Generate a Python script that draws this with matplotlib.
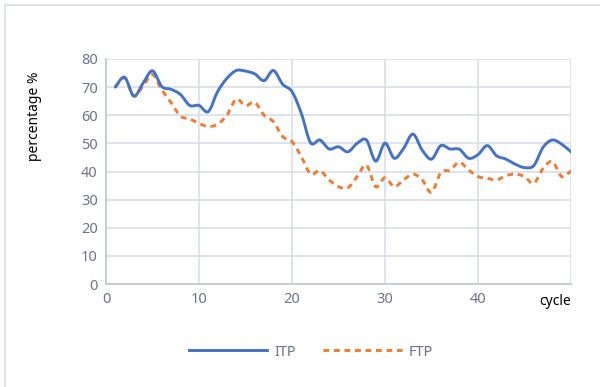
import numpy as np
import matplotlib.pyplot as plt
from matplotlib.path import Path
from matplotlib.patches import PathPatch, Rectangle
from matplotlib.lines import Line2D

# ── Data ──────────────────────────────────────────────────────────────────────

cycles = list(range(1, 51))

itp = [70, 73.5, 66.8, 71.5, 75.8, 70.2, 69.2, 67.4, 63.5, 63.5,
       61.3, 68.4, 73.1, 75.9, 75.7, 74.7, 72.3, 75.9, 71.0, 68.4,
       60.7, 50.2, 51.2, 48.0, 48.8, 47.0, 50.0, 51.2, 43.7, 50.1,
       44.7, 48.2, 53.3, 47.6, 44.4, 49.2, 48.0, 47.9, 44.7, 46.0,
       49.2, 45.6, 44.4, 42.6, 41.4, 42.1, 48.6, 51.2, 49.7, 47.0]

ftp = [70, 73.3, 66.8, 70.5, 74.5, 69.0, 64.5, 59.7, 58.7, 57.1,
       56.0, 56.8, 60.0, 65.7, 63.4, 64.6, 60.0, 57.7, 52.4, 50.6,
       45.3, 39.1, 40.3, 37.0, 34.6, 34.2, 38.2, 42.3, 34.6, 37.8,
       34.6, 37.0, 39.1, 37.0, 32.6, 39.6, 40.5, 43.3, 40.5, 38.2,
       37.6, 37.0, 38.5, 39.1, 38.2, 35.8, 41.1, 43.5, 38.2, 40.2]

series_names = ["ITP", "FTP"]
x_ticks = [0, 10, 20, 30, 40, 50]
y_ticks = [0, 10, 20, 30, 40, 50, 60, 70, 80]

BLUE = "#4472C4"
ORANGE = "#ED7D31"
GRID = "#D9DEE8"
TICK_TXT = "#6B7589"
DASH = (0, (2.0, 1.6))


def smooth_path(x, y, tension=1 / 6):
    """Bezier path through the points, control points from neighbours."""
    x = np.asarray(x, float)
    y = np.asarray(y, float)
    n = len(x)
    verts = [(x[0], y[0])]
    codes = [Path.MOVETO]
    for i in range(n - 1):
        i0 = max(i - 1, 0)
        i3 = min(i + 2, n - 1)
        c1 = (x[i] + (x[i + 1] - x[i0]) * tension, y[i] + (y[i + 1] - y[i0]) * tension)
        c2 = (x[i + 1] - (x[i3] - x[i]) * tension, y[i + 1] - (y[i3] - y[i]) * tension)
        verts += [c1, c2, (x[i + 1], y[i + 1])]
        codes += [Path.CURVE4] * 3
    return Path(verts, codes)


fig = plt.figure(figsize=(6.0, 3.87), dpi=100)
plt.rcParams["font.family"] = ["Noto Sans", "DejaVu Sans"]

# chart-area frame
fig.patches.append(Rectangle((5 / 600, -0.1), 1.2, 1 - 5 / 387 + 0.1,
                             transform=fig.transFigure, fill=False,
                             edgecolor=GRID, lw=1.2))

ax = fig.add_axes([106 / 600, 1 - 284 / 387, 465 / 600, 225 / 387])

ax.add_patch(PathPatch(smooth_path(cycles, itp), fill=False,
                       edgecolor=BLUE, lw=2.1, capstyle="round", zorder=4))
ax.add_patch(PathPatch(smooth_path(cycles, ftp), fill=False,
                       edgecolor=ORANGE, lw=2.1, ls=DASH, zorder=3))

ax.set_xlim(0, 50)
ax.set_ylim(0, 80)
ax.set_xticks(x_ticks)
ax.set_xticklabels([str(t) for t in x_ticks[:-1]] + [""])
ax.set_yticks(y_ticks)
ax.tick_params(length=0, labelsize=10.5, labelcolor=TICK_TXT, pad=6)
ax.grid(True, color=GRID, lw=1.2)
ax.set_axisbelow(True)

for side in ("top", "right"):
    ax.spines[side].set_visible(False)
for side in ("left", "bottom"):
    ax.spines[side].set_color("#BFC7D5")
    ax.spines[side].set_linewidth(1.2)

ax.set_ylabel("percentage %", fontsize=10, color="black")
ax.yaxis.set_label_coords(-0.137, 0.745)
ax.text(50, -3.6, "cycle", ha="right", va="top", fontsize=10, color="black")

handles = [Line2D([], [], color=BLUE, lw=2.1),
           Line2D([], [], color=ORANGE, lw=2.1, ls=DASH)]
fig.legend(handles, series_names, loc="center", bbox_to_anchor=(0.518, 1 - 352 / 387),
           ncol=2, frameon=False, fontsize=10.5, handlelength=5.4,
           columnspacing=1.9, handletextpad=0.45, labelcolor=TICK_TXT)

fig.savefig("out.png", dpi=100)
